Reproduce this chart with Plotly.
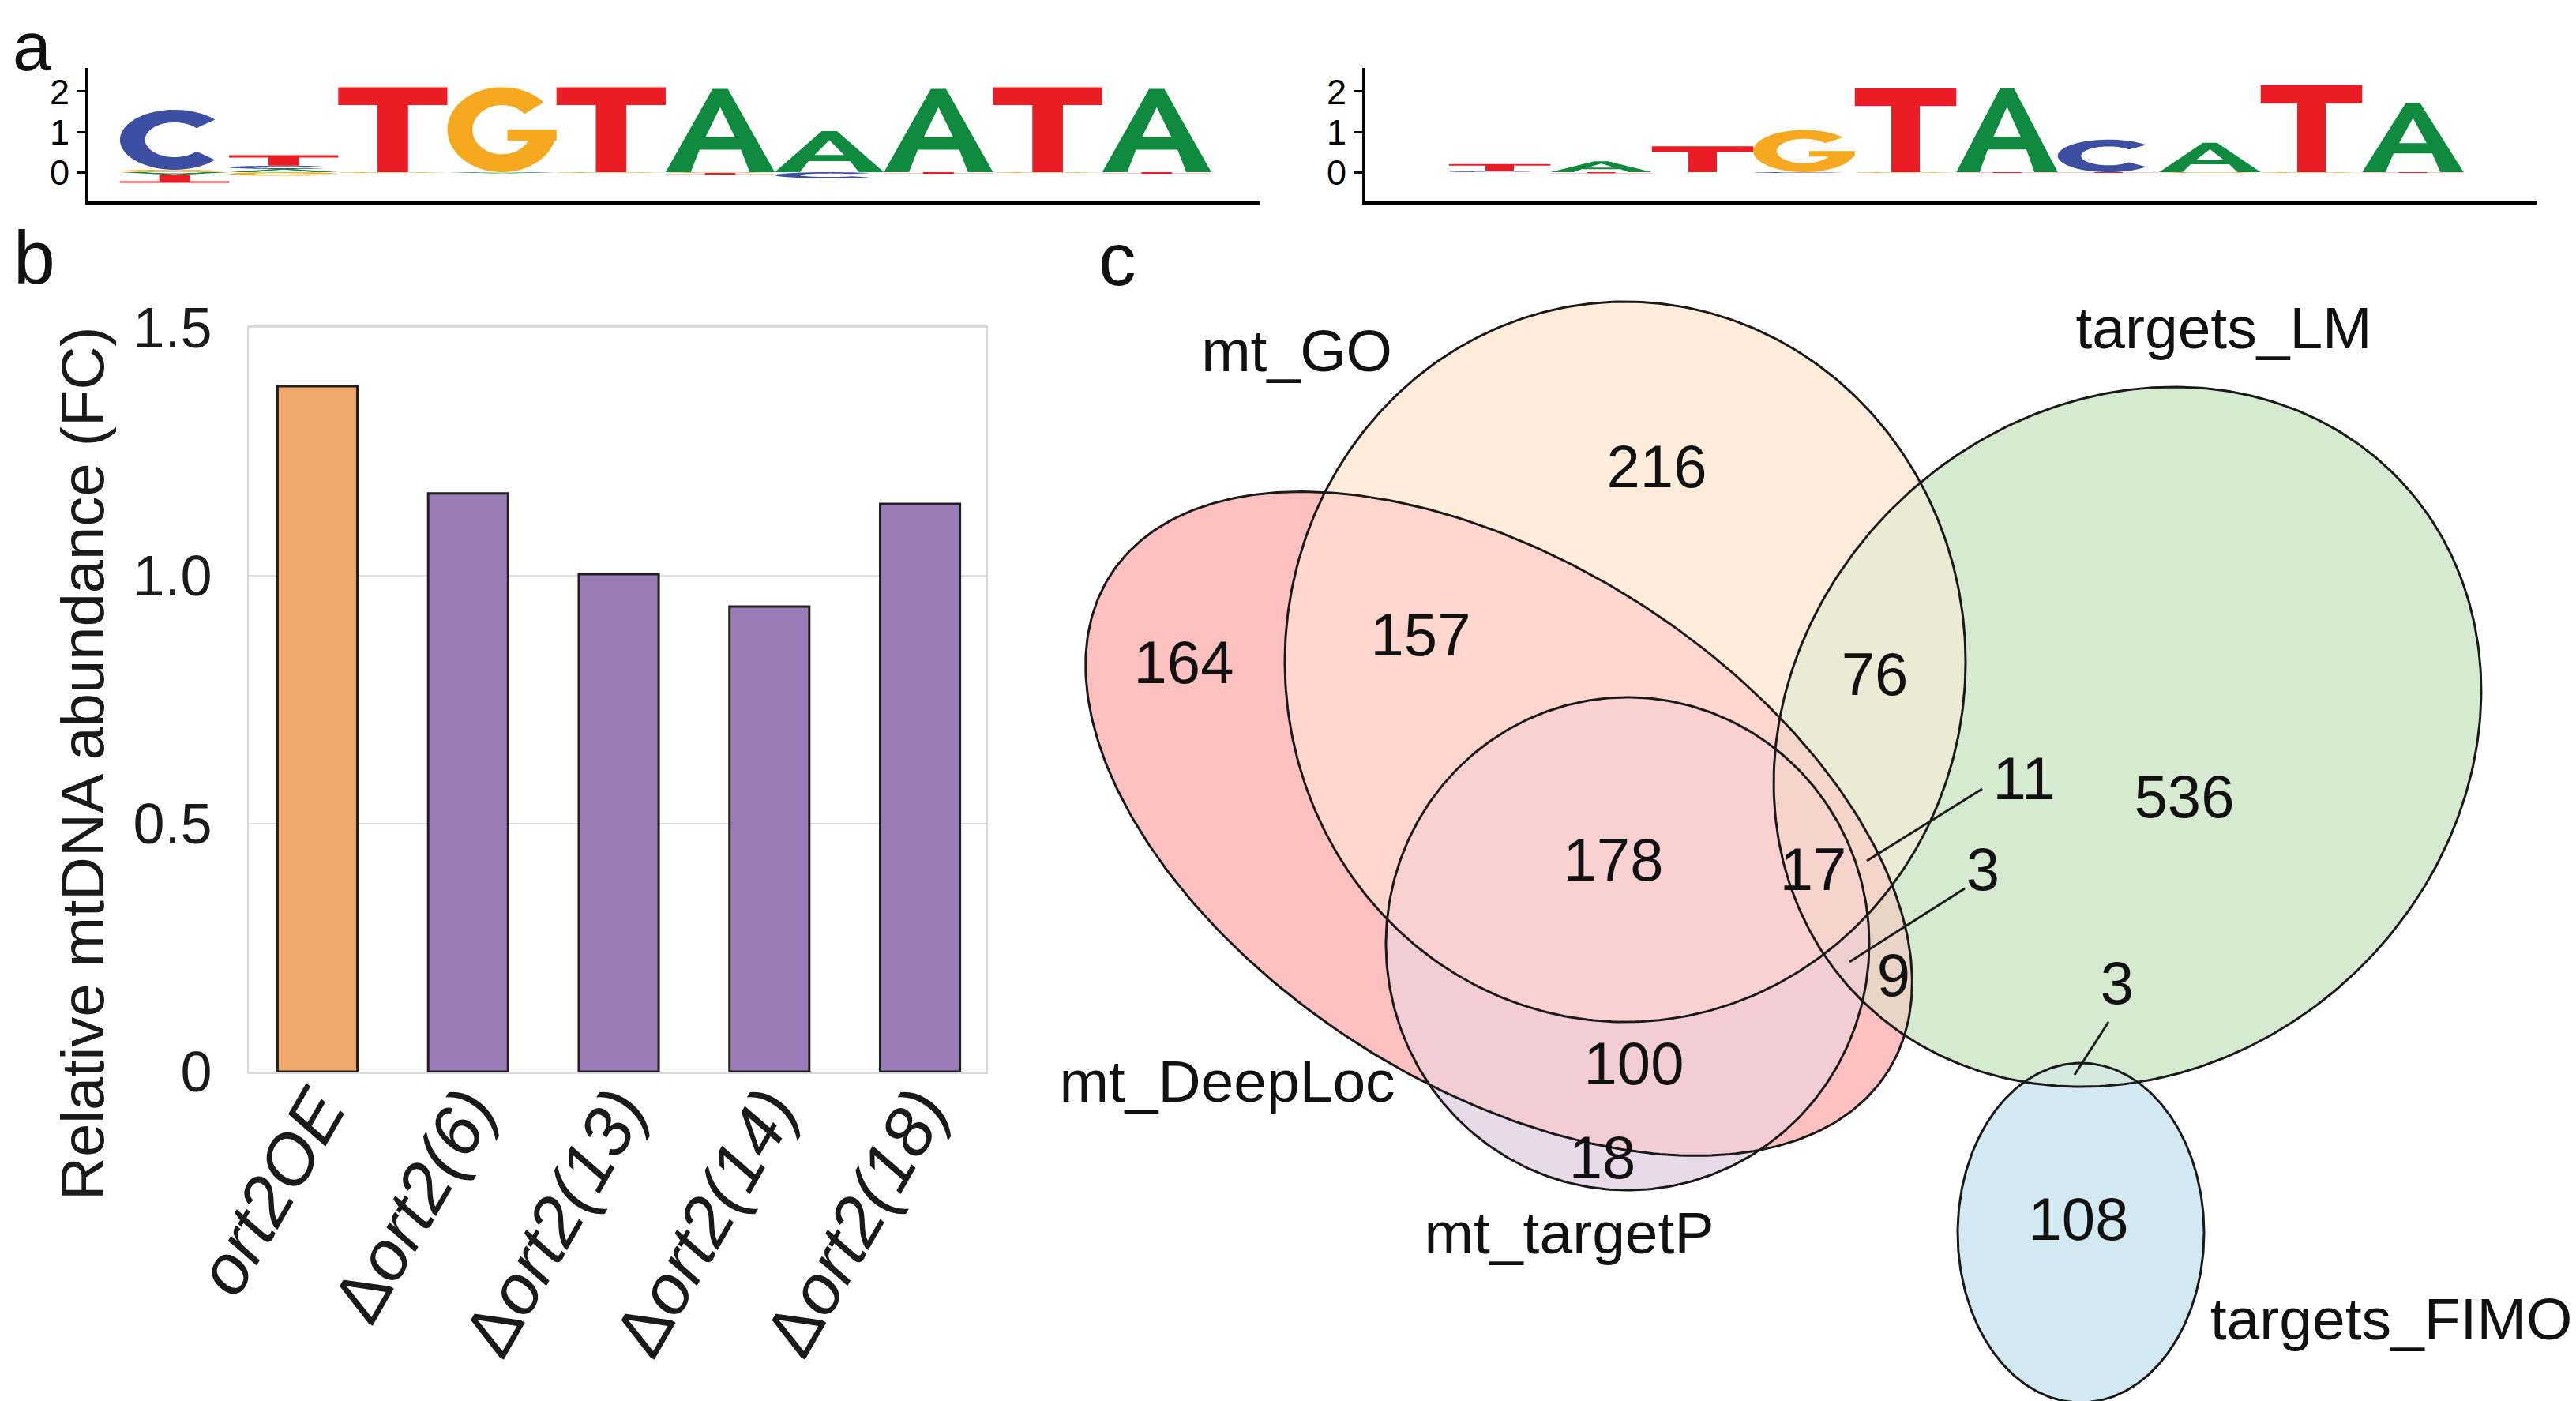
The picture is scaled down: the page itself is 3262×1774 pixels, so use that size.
import numpy as np
import plotly.graph_objects as go

W, H = 3262, 1774
FONT = "Liberation Sans, Arial, Helvetica, sans-serif"

# ---------------- data ----------------
LOGO_POS = list(range(1, 11))
# panel a, left motif: signed letter heights (bits) per position
LOGO1_A = [-0.065, 0.08, 0.0, -0.03, 0.0, 2.07, 1.02, 2.07, 0.0, 2.07]
LOGO1_C = [1.49, 0.08, 0.0, 0.0, 0.0, 0.0, -0.15, 0.0, 0.0, 0.0]
LOGO1_G = [0.06, -0.09, -0.02, 2.11, -0.02, -0.02, 0.0, 0.0, -0.02, 0.0]
LOGO1_T = [-0.2, 0.26, 2.11, 0.0, 2.11, -0.04, 0.0, -0.04, 2.11, -0.04]
# panel a, right motif
LOGO2_A = [0.0, 0.27, 0.0, 0.0, 0.0, 2.08, 0.0, 0.73, 0.0, 1.72]
LOGO2_C = [0.03, 0.0, 0.0, -0.02, 0.0, 0.0, 0.81, 0.0, 0.0, 0.0]
LOGO2_G = [0.0, 0.0, 0.0, 1.05, -0.02, 0.0, 0.0, -0.02, -0.02, 0.0]
LOGO2_T = [0.17, -0.03, 0.64, 0.0, 2.08, -0.02, -0.02, 0.0, 2.16, -0.02]
LOGO_TICKS = [0, 1, 2]

# panel b
BAR_LABELS = ["<i>ort2OE</i>", "Δ<i>ort2(6)</i>", "Δ<i>ort2(13)</i>",
              "Δ<i>ort2(14)</i>", "Δ<i>ort2(18)</i>"]
BAR_VALUES = [1.382, 1.166, 1.003, 0.938, 1.145]
BAR_TICKS = [0, 0.5, 1.0, 1.5]
BAR_TICKTEXT = ["0", "0.5", "1.0", "1.5"]
BAR_TITLE = "Relative mtDNA abundance (FC)"

# panel c
VENN_SETS = ["mt_GO", "targets_LM", "mt_DeepLoc", "mt_targetP", "targets_FIMO"]
VENN_COUNTS = [216, 164, 157, 76, 536, 11, 178, 17, 3, 9, 3, 100, 18, 108]

# ---------------- styles / geometry ----------------
LETTER_COLORS = {"A": "#0F8A3F", "C": "#3D4FA3", "G": "#F6A81F", "T": "#EC1C24"}
BAR_COLORS = ["#F0A96A", "#997BB7", "#997BB7", "#997BB7", "#997BB7"]

# ellipse geometry in pixel frame (cx, cy, a, b, angle deg, y down)
VENN_GEOM = {
    "mt_GO": (2050, 830, 431, 456, 0.0),
    "targets_LM": (2686, 925, 474, 415, -42.6),
    "mt_DeepLoc": (1890, 1035, 584, 331, 32.6),
    "mt_targetP": (2053, 1187, 306, 312, 0.0),
    "targets_FIMO": (2627, 1553, 156, 215, 0.0),
}
VENN_COLORS = {
    "mt_GO": (254, 236, 218),
    "targets_LM": (213, 234, 208),
    "mt_DeepLoc": (253, 192, 192),
    "mt_targetP": (233, 218, 233),
    "targets_FIMO": (211, 233, 241),
}
VENN_LABEL_POS = [(1634, 443), (2808, 414), (1546, 1368), (1979, 1560), (3020, 1669)]
VENN_COUNT_POS = [(2090, 590), (1491, 838), (1791, 803), (2366, 853), (2758, 1008),
                  (2555, 985), (2035, 1088), (2288, 1100), (2503, 1100), (2390, 1234),
                  (2673, 1244), (2061, 1346), (2021, 1465), (2624, 1543)]
LEADERS = [((2502, 991), (2356, 1082)), ((2480, 1117), (2334, 1210)),
           ((2662, 1286), (2619, 1353))]


def arc(cx, cy, rx, ry, t0, t1, n=60):
    t = np.radians(np.linspace(t0, t1, n))
    return list(cx + rx * np.cos(t)), list(cy + ry * np.sin(t))


def build_glyphs():
    g = {}
    g["T"] = [[(0.36, 0), (0.64, 0), (0.64, 0.79), (1, 0.79), (1, 1), (0, 1),
               (0, 0.79), (0.36, 0.79)]]
    g["A"] = [[(0.43, 1), (0, 0), (0.23, 0), (0.31, 0.27), (0.69, 0.27), (0.77, 0),
               (1, 0), (0.57, 1), (0.5, 1), (0.5, 0.78), (0.635, 0.42),
               (0.365, 0.42), (0.5, 0.78), (0.5, 1)]]
    ox, oy = arc(0.5, 0.5, 0.5, 0.5, 42, 318)
    ix, iy = arc(0.5, 0.5, 0.27, 0.29, 318, 42)
    g["C"] = [list(zip(ox + ix, oy + iy))]
    ox, oy = arc(0.5, 0.5, 0.5, 0.5, 40, 360)
    ix, iy = arc(0.5, 0.5, 0.27, 0.29, 360, 40)
    g["G"] = [list(zip(ox + ix, oy + iy)),
              [(0.55, 0.37), (1.0, 0.37), (1.0, 0.5), (0.55, 0.5)]]
    return g


GLYPHS = build_glyphs()

fig = go.Figure()


def add_logo(heights, xa, ya):
    xs = {L: [] for L in "ACGT"}
    ys = {L: [] for L in "ACGT"}
    for i, pos in enumerate(LOGO_POS):
        items = [(L, heights[L][i]) for L in "ACGT" if heights[L][i] != 0]
        pos_items = sorted([it for it in items if it[1] > 0], key=lambda t: t[1])
        neg_items = sorted([it for it in items if it[1] < 0], key=lambda t: abs(t[1]))
        for group in (pos_items, neg_items):
            base = 0.0
            for L, h in group:
                for poly in GLYPHS[L]:
                    for (u, v) in poly:
                        xs[L].append(pos - 0.5 + u)
                        ys[L].append(base + v * h)
                    xs[L].append(None)
                    ys[L].append(None)
                base += h
    for L in "ACGT":
        if xs[L]:
            fig.add_trace(go.Scatter(x=xs[L], y=ys[L], mode="none", fill="toself",
                                     fillcolor=LETTER_COLORS[L], xaxis=xa, yaxis=ya,
                                     hoverinfo="skip"))


add_logo({"A": LOGO1_A, "C": LOGO1_C, "G": LOGO1_G, "T": LOGO1_T}, "x", "y")
add_logo({"A": LOGO2_A, "C": LOGO2_C, "G": LOGO2_G, "T": LOGO2_T}, "x2", "y2")

# ---- panel b bars ----
fig.add_trace(go.Bar(x=list(range(len(BAR_VALUES))), y=BAR_VALUES, width=0.53,
                     marker=dict(color=BAR_COLORS, line=dict(color="#231F20", width=3)),
                     xaxis="x3", yaxis="y3", hoverinfo="skip"))


# ---- panel c venn ----
def ellipse(cx, cy, a, b, ang, n=360):
    t = np.linspace(0, 2 * np.pi, n)
    ca, sa = np.cos(np.radians(ang)), np.sin(np.radians(ang))
    x = cx + a * np.cos(t) * ca - b * np.sin(t) * sa
    y = cy + a * np.cos(t) * sa + b * np.sin(t) * ca
    return x, y


order1 = ["mt_DeepLoc", "mt_GO", "mt_targetP", "targets_LM", "targets_FIMO"]
order2 = ["targets_LM", "mt_targetP", "mt_GO", "mt_DeepLoc"]
for name, alpha in [(n, 1.0) for n in order1] + [(n, 0.5) for n in order2]:
    ex, ey = ellipse(*VENN_GEOM[name])
    r, g_, b = VENN_COLORS[name]
    fig.add_trace(go.Scatter(x=ex, y=ey, mode="none", fill="toself",
                             fillcolor=f"rgba({r},{g_},{b},{alpha})",
                             xaxis="x4", yaxis="y4", hoverinfo="skip"))
for name in VENN_SETS:
    ex, ey = ellipse(*VENN_GEOM[name])
    fig.add_trace(go.Scatter(x=ex, y=ey, mode="lines", line=dict(color="#1a1a1a", width=3),
                             xaxis="x4", yaxis="y4", hoverinfo="skip"))
lx, ly = [], []
for (p0, p1) in LEADERS:
    lx += [p0[0], p1[0], None]
    ly += [p0[1], p1[1], None]
fig.add_trace(go.Scatter(x=lx, y=ly, mode="lines", line=dict(color="#1a1a1a", width=3),
                         xaxis="x4", yaxis="y4", hoverinfo="skip"))
fig.add_trace(go.Scatter(x=[p[0] for p in VENN_COUNT_POS], y=[p[1] for p in VENN_COUNT_POS],
                         text=[str(c) for c in VENN_COUNTS], mode="text",
                         textposition="middle center",
                         textfont=dict(size=76, color="#111111", family=FONT),
                         xaxis="x4", yaxis="y4", hoverinfo="skip", cliponaxis=False))
fig.add_trace(go.Scatter(x=[p[0] for p in VENN_LABEL_POS], y=[p[1] for p in VENN_LABEL_POS],
                         text=VENN_SETS, mode="text", textposition="middle center",
                         textfont=dict(size=75, color="#111111", family=FONT),
                         xaxis="x4", yaxis="y4", hoverinfo="skip", cliponaxis=False))

# ---------------- layout ----------------
def px_x(p):
    return p / W


def px_y(p):
    return 1 - p / H


logo_x = dict(showline=True, linewidth=4, linecolor="black", showgrid=False,
              zeroline=False, showticklabels=False, ticks="", automargin=False)
logo_y = dict(showline=True, linewidth=3, linecolor="black", ticks="outside", ticklen=11,
              tickwidth=2.5, tickcolor="black", tickvals=LOGO_TICKS,
              tickfont=dict(size=45, color="black", family=FONT), showgrid=False,
              zeroline=False, automargin=False, range=[-0.725, 2.588],
              domain=[px_y(247), px_y(78)])

fig.update_layout(
    template="none", width=W, height=H, autosize=False,
    margin=dict(l=0, r=0, t=0, b=0, pad=0),
    paper_bgcolor="white", plot_bgcolor="white", showlegend=False,
    font=dict(family=FONT, color="#1a1a1a"),
    xaxis=dict(logo_x, domain=[px_x(103), px_x(1587)], range=[0.204, 10.942], anchor="y"),
    yaxis=dict(logo_y, anchor="x"),
    xaxis2=dict(logo_x, domain=[px_x(1720), px_x(3204)], range=[-0.331, 11.218], anchor="y2"),
    yaxis2=dict(logo_y, anchor="x2"),
    xaxis3=dict(domain=[px_x(307), px_x(1241)], range=[-0.456, 4.44], anchor="y3",
                showline=True, mirror=True, linecolor="#D9D9D9", linewidth=3,
                showgrid=False, zeroline=False, ticks="",
                tickvals=list(range(len(BAR_LABELS))), ticktext=BAR_LABELS,
                tickangle=-60, tickfont=dict(size=89, color="#1a1a1a", family=FONT),
                ticklabelstandoff=-42, automargin=False),
    yaxis3=dict(domain=[px_y(1349), px_y(407)], range=[0, 1.5], anchor="x3",
                showline=True, mirror=True, linecolor="#D9D9D9", linewidth=2,
                showgrid=True, gridcolor="#E0E0E0", gridwidth=2, zeroline=False,
                ticks="", tickvals=BAR_TICKS, ticktext=BAR_TICKTEXT,
                tickfont=dict(size=72, color="#1a1a1a", family=FONT),
                ticklabelstandoff=30, automargin=False),
    xaxis4=dict(domain=[px_x(1300), 1.0], range=[1300, W], anchor="y4", visible=False),
    yaxis4=dict(domain=[0.0, px_y(280)], range=[H, 280], anchor="x4", visible=False),
)

# panel letters
fig.add_annotation(text="a", x=px_x(32), y=1.0, xref="paper", yref="paper",
                   xanchor="center", yanchor="top", showarrow=False, borderpad=0,
                   font=dict(size=88, color="#111111", family=FONT))
fig.add_annotation(text="b", x=px_x(35), y=px_y(318), xref="paper", yref="paper",
                   xanchor="center", yanchor="middle", showarrow=False,
                   font=dict(size=95, color="#111111", family=FONT))
fig.add_annotation(text="c", x=px_x(1407), y=px_y(320), xref="paper", yref="paper",
                   xanchor="center", yanchor="middle", showarrow=False,
                   font=dict(size=95, color="#111111", family=FONT))
fig.add_annotation(text=BAR_TITLE, x=px_x(96), y=px_y(959), xref="paper", yref="paper",
                   xanchor="center", yanchor="middle", showarrow=False, textangle=-90,
                   font=dict(size=76, color="#1a1a1a", family=FONT))

fig.write_html("out.html")
